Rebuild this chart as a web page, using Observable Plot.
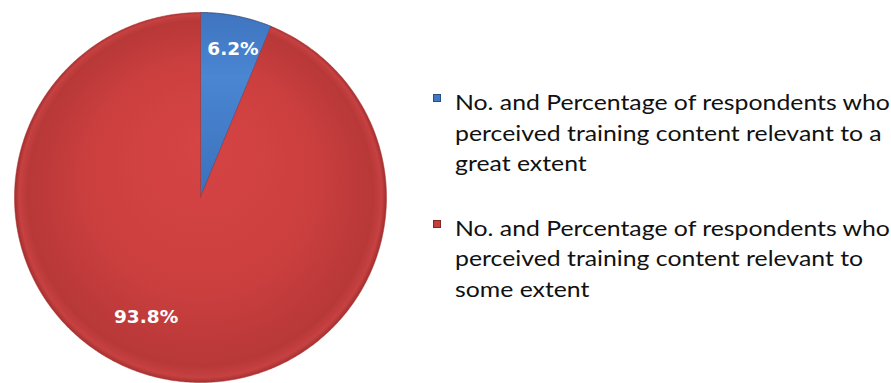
<!DOCTYPE html>
<html>
<head>
<meta charset="utf-8">
<script src="https://cdn.jsdelivr.net/npm/d3@7"></script>
<script src="https://cdn.jsdelivr.net/npm/@observablehq/plot@0.6"></script>
<style>
  html, body { margin: 0; padding: 0; background: #fff; }
  #wrap { position: relative; width: 891px; height: 383px; overflow: hidden; }
  #chart { position: absolute; left: 0; top: 0; }
  #legend { position: absolute; left: 433px; top: 87px; font-family: Lato, "Open Sans", sans-serif; font-size: 20.5px; color: #111; }
  .item { position: relative; line-height: 30.5px; margin-bottom: 34px; }
  .txt { margin-left: 22px; transform: scaleX(1.21); transform-origin: 0 0; white-space: nowrap; }
  .sw { position: absolute; left: 0; top: 7px; width: 8px; height: 8px; border: 0.5px solid rgba(0,0,0,0.35); box-sizing: border-box; }
</style>
</head>
<body>
<div id="wrap">
  <div id="chart"></div>
  <div id="legend"></div>
</div>
<script>
// ---- data ----
const categories = [
  "No. and Percentage of respondents who perceived training content relevant to a great extent",
  "No. and Percentage of respondents who perceived training content relevant to some extent"
];
const legendLines = [
  ["No. and Percentage of respondents who", "perceived training content relevant to a", "great extent"],
  ["No. and Percentage of respondents who", "perceived training content relevant to", "some extent"]
];
const values = [6.2, 93.8];
const labels = ["6.2%", "93.8%"];
const colors = ["#3f78c4", "#c53d3d"];

// ---- build slices ----
const pie = d3.pie().sort(null).value(d => d.value);
const arcs = pie(categories.map((c, i) => ({cat: c, value: values[i], label: labels[i], i})));

function slicePoints(a) {
  const pts = [{x: 0, y: 0, i: a.data.i}];
  const n = Math.max(8, Math.ceil((a.endAngle - a.startAngle) / (Math.PI / 360)));
  for (let k = 0; k <= n; k++) {
    const t = a.startAngle + (a.endAngle - a.startAngle) * k / n;
    pts.push({x: Math.sin(t), y: Math.cos(t), i: a.data.i});
  }
  pts.push({x: 0, y: 0, i: a.data.i});
  return pts;
}
// label placement (radius fraction, angle shift in radians) per slice
const labelRadius = [0.82, 0.71];
const labelShift = [0.02, 0.23];
const labelPts = arcs.map((a, j) => {
  const m = (a.startAngle + a.endAngle) / 2 + labelShift[j];
  return {x: labelRadius[j] * Math.sin(m), y: labelRadius[j] * Math.cos(m), label: a.data.label};
});

const gradIds = ["gBlue", "gRed"];
const marks = arcs.map((a, j) => Plot.line(slicePoints(a), {
  x: "x", y: "y", fill: `url(#${gradIds[j]})`, stroke: j === 0 ? "#2b3f66" : "#b03434",
  strokeWidth: j === 0 ? 0.8 : 0.6, strokeOpacity: 0.9, curve: "linear"
}));
marks.push(Plot.text(labelPts, {
  x: "x", y: "y", text: "label", fill: "white", fontSize: 18.5, fontWeight: "bold",
  fontFamily: "'DejaVu Sans', Verdana, sans-serif", stroke: "none"
}));

const plot = Plot.plot({
  width: 420, height: 383,
  marginLeft: 14, marginRight: 34, marginTop: 12, marginBottom: 1,
  x: {domain: [-1, 1], axis: null},
  y: {domain: [-1, 1], axis: null},
  style: {background: "transparent", overflow: "visible"},
  marks
});

// gradients
const ns = "http://www.w3.org/2000/svg";
const defs = document.createElementNS(ns, "defs");
defs.innerHTML = `
  <radialGradient id="gRed" cx="200" cy="197" r="186" fx="200" fy="140" gradientUnits="userSpaceOnUse">
    <stop offset="0" stop-color="#d64444"/>
    <stop offset="0.6" stop-color="#cc3f3f"/>
    <stop offset="0.93" stop-color="#b83838"/>
    <stop offset="0.975" stop-color="#c74141"/>
    <stop offset="1" stop-color="#a02e2e"/>
  </radialGradient>
  <linearGradient id="gBlue" x1="0" y1="0" x2="0" y2="1">
    <stop offset="0" stop-color="#3f74c0"/>
    <stop offset="0.35" stop-color="#4a86d2"/>
    <stop offset="1" stop-color="#3b70bb"/>
  </linearGradient>`;
plot.insertBefore(defs, plot.firstChild);
document.getElementById("chart").appendChild(plot);

// legend
const leg = document.getElementById("legend");
legendLines.forEach((lines, j) => {
  const div = document.createElement("div");
  div.className = "item";
  const sw = document.createElement("span");
  sw.className = "sw";
  sw.style.background = colors[j];
  div.appendChild(sw);
  lines.forEach(l => {
    const s = document.createElement("div");
    s.className = "txt";
    s.textContent = l;
    div.appendChild(s);
  });
  leg.appendChild(div);
});
</script>
</body>
</html>
